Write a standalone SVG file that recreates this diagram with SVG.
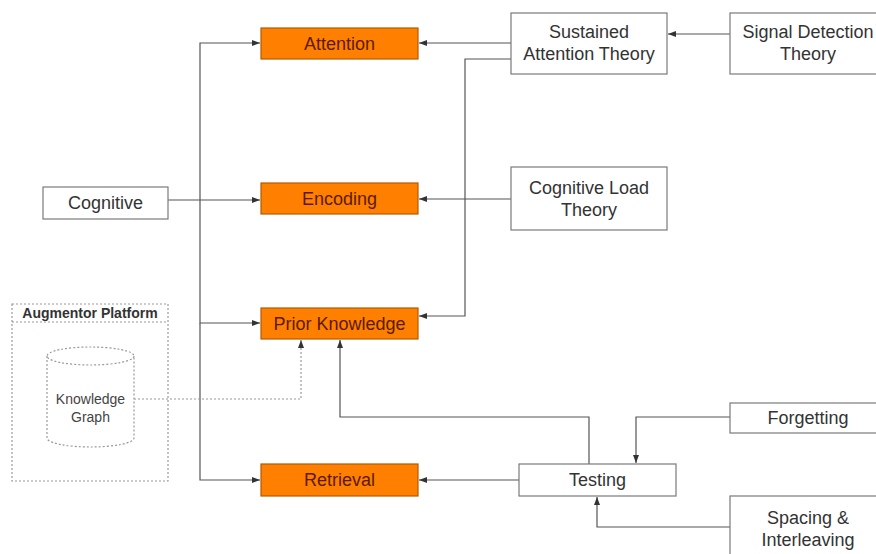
<svg xmlns="http://www.w3.org/2000/svg" width="876" height="554" viewBox="0 0 876 554">
  <style>
    .box { fill: #ffffff; stroke: #7a7a7a; stroke-width: 1.2; }
    .hot { fill: #ff8000; stroke: #b35a00; stroke-width: 1.2; }
    .lbl { font-family: "Liberation Sans", Arial, sans-serif; font-size: 18px; fill: #333333; text-anchor: middle; dominant-baseline: central; }
    .hlbl { font-family: "Liberation Sans", Arial, sans-serif; font-size: 18px; fill: #5c1a00; text-anchor: middle; dominant-baseline: central; }
    .small { font-family: "Liberation Sans", Arial, sans-serif; font-size: 14px; fill: #444444; text-anchor: middle; dominant-baseline: central; }
    .title { font-family: "Liberation Sans", Arial, sans-serif; font-size: 14px; font-weight: bold; fill: #333333; text-anchor: middle; dominant-baseline: central; }
    .dot { fill: none; stroke: #9a9a9a; stroke-width: 1.2; stroke-dasharray: 2 2; }
    .edge { fill: none; stroke: #555555; stroke-width: 1.2; marker-end: url(#arr); }
    .edge-dot { fill: none; stroke: #9a9a9a; stroke-width: 1.2; stroke-dasharray: 2 2; marker-end: url(#arr); }
  </style>
  <defs>
    <marker id="arr" viewBox="0 0 8 8" refX="8" refY="4" markerWidth="8" markerHeight="8" markerUnits="userSpaceOnUse" orient="auto">
      <path d="M0,1 L8,4 L0,7 z" fill="#333333"/>
    </marker>
  </defs>

  <rect width="876" height="554" fill="#ffffff"/>

  <!-- connectors -->
  <g id="connectors">
    <!-- Cognitive trunk -->
    <path class="edge" d="M168,200 H260"/>
    <path class="edge" d="M200,200 V43 H260"/>
    <path class="edge" d="M200,200 V323 H260"/>
    <path class="edge" d="M200,323 V480 H260"/>
    <!-- theories -->
    <path class="edge" d="M511,43 H419"/>
    <path class="edge" d="M511,59 H465 V316 H419"/>
    <path class="edge" d="M730,34 H668"/>
    <path class="edge" d="M511,199 H419"/>
    <!-- testing -->
    <path class="edge" d="M519,480 H419"/>
    <path class="edge" d="M589,464 V417 H340 V340"/>
    <path class="edge" d="M730,417 H636 V463"/>
    <path class="edge" d="M730,527 H597 V497"/>
    <!-- knowledge graph -->
    <path class="edge-dot" d="M134,399 H301 V340"/>
  </g>

  <!-- cognitive processes -->
  <g id="attention">
    <rect class="hot" x="261" y="28" width="157" height="31"/>
    <text class="hlbl" x="339.5" y="43.5">Attention</text>
  </g>
  <g id="encoding">
    <rect class="hot" x="261" y="183" width="157" height="31"/>
    <text class="hlbl" x="339.5" y="198.5">Encoding</text>
  </g>
  <g id="prior-knowledge">
    <rect class="hot" x="261" y="308" width="157" height="31"/>
    <text class="hlbl" x="339.5" y="323.5">Prior Knowledge</text>
  </g>
  <g id="retrieval">
    <rect class="hot" x="261" y="464" width="157" height="32"/>
    <text class="hlbl" x="339.5" y="480">Retrieval</text>
  </g>

  <g id="cognitive">
    <rect class="box" x="43" y="187" width="125" height="32"/>
    <text class="lbl" x="105.5" y="203">Cognitive</text>
  </g>

  <!-- theories -->
  <g id="sustained-attention">
    <rect class="box" x="511" y="13" width="156" height="61"/>
    <text class="lbl" x="589" y="32">Sustained</text>
    <text class="lbl" x="589" y="54">Attention Theory</text>
  </g>
  <g id="signal-detection">
    <rect class="box" x="730" y="13" width="156" height="61"/>
    <text class="lbl" x="808" y="32">Signal Detection</text>
    <text class="lbl" x="808" y="54">Theory</text>
  </g>
  <g id="cognitive-load">
    <rect class="box" x="511" y="167" width="156" height="63"/>
    <text class="lbl" x="589" y="188">Cognitive Load</text>
    <text class="lbl" x="589" y="210">Theory</text>
  </g>

  <g id="testing">
    <rect class="box" x="519" y="464" width="157" height="32"/>
    <text class="lbl" x="597.5" y="480">Testing</text>
  </g>
  <g id="forgetting">
    <rect class="box" x="730" y="403" width="156" height="30"/>
    <text class="lbl" x="808" y="418">Forgetting</text>
  </g>
  <g id="spacing">
    <rect class="box" x="730" y="496" width="156" height="64"/>
    <text class="lbl" x="808" y="518">Spacing &amp;</text>
    <text class="lbl" x="808" y="540">Interleaving</text>
  </g>

  <!-- platform container -->
  <g id="augmentor-platform">
    <rect class="dot" x="12" y="304" width="156" height="177"/>
    <line class="dot" x1="12" y1="322" x2="168" y2="322"/>
    <text class="title" x="90" y="313">Augmentor Platform</text>
  </g>
  <g id="knowledge-graph">
    <path class="dot" d="M47,356 V438 A43.5,9 0 0 0 134,438 V356"/>
    <ellipse class="dot" cx="90.5" cy="356" rx="43.5" ry="9"/>
    <text class="small" x="90.5" y="399">Knowledge</text>
    <text class="small" x="90.5" y="417">Graph</text>
  </g>
</svg>
